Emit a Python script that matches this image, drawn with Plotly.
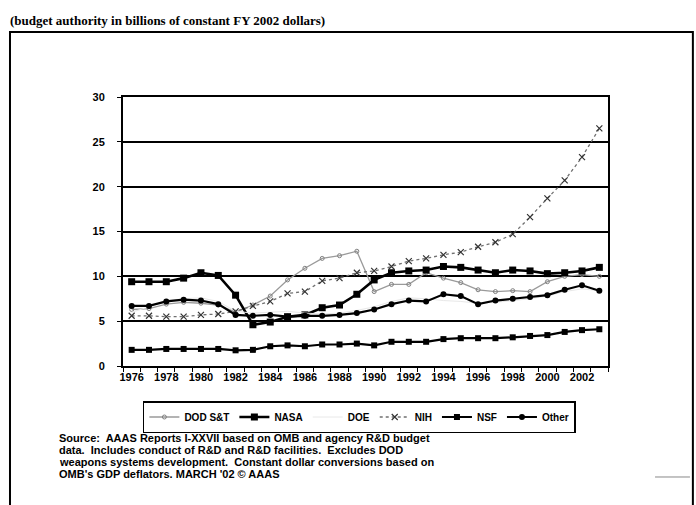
import plotly.graph_objects as go

years = [1976, 1977, 1978, 1979, 1980, 1981, 1982, 1983, 1984, 1985, 1986, 1987, 1988, 1989,
         1990, 1991, 1992, 1993, 1994, 1995, 1996, 1997, 1998, 1999, 2000, 2001, 2002, 2003]
label_years = [1976, 1978, 1980, 1982, 1984, 1986, 1988, 1990, 1992, 1994, 1996, 1998, 2000, 2002]

dod_st = [6.3, 6.4, 6.9, 7.1, 7.0, 6.8, 6.0, 6.8, 7.8, 9.6, 10.9, 12.0, 12.3, 12.8,
          8.3, 9.1, 9.1, 10.4, 9.8, 9.3, 8.5, 8.3, 8.4, 8.3, 9.4, 10.0, 10.2, 10.0]
nasa = [9.4, 9.4, 9.4, 9.8, 10.4, 10.1, 7.9, 4.6, 4.9, 5.5, 5.7, 6.5, 6.8, 8.0,
        9.6, 10.4, 10.6, 10.7, 11.1, 11.0, 10.7, 10.4, 10.7, 10.6, 10.3, 10.4, 10.6, 11.0]
doe = [6.0, 6.6, 7.3, 7.5, 7.6, 7.2, 6.1, 5.9, 6.0, 6.1, 5.9, 5.8, 5.9, 6.2,
       6.6, 7.2, 7.6, 7.5, 7.3, 7.2, 7.0, 7.1, 7.3, 7.5, 7.8, 8.3, 8.6, 8.4]
nih = [5.6, 5.6, 5.5, 5.5, 5.7, 5.8, 6.1, 6.7, 7.2, 8.1, 8.3, 9.5, 9.8, 10.4,
       10.6, 11.1, 11.7, 12.0, 12.4, 12.7, 13.3, 13.8, 14.7, 16.6, 18.7, 20.7, 23.3, 26.5]
nsf = [1.8, 1.8, 1.9, 1.9, 1.9, 1.9, 1.75, 1.8, 2.2, 2.3, 2.2, 2.4, 2.4, 2.5,
       2.3, 2.7, 2.7, 2.7, 3.0, 3.1, 3.1, 3.1, 3.2, 3.35, 3.45, 3.8, 4.0, 4.1]
other = [6.7, 6.7, 7.2, 7.4, 7.3, 6.9, 5.7, 5.6, 5.7, 5.5, 5.6, 5.6, 5.7, 5.9,
         6.3, 6.9, 7.3, 7.2, 8.0, 7.8, 6.9, 7.3, 7.5, 7.7, 7.9, 8.5, 9.0, 8.4]

title_text = "(budget authority in billions of constant FY 2002 dollars)"
source_lines = ["Source:  AAAS Reports I-XXVII based on OMB and agency R&D budget",
                "data.  Includes conduct of R&D and R&D facilities.  Excludes DOD",
                "weapons systems development.  Constant dollar conversions based on",
                "OMB's GDP deflators. MARCH '02 © AAAS"]

fig = go.Figure()
fig.add_trace(go.Scatter(x=years, y=dod_st, name="DOD S&T", mode="lines+markers",
                         line=dict(color="#9a9a9a", width=1.3),
                         marker=dict(symbol="circle-open", size=4, color="#808080")))
fig.add_trace(go.Scatter(x=years, y=nasa, name="NASA", mode="lines+markers",
                         line=dict(color="black", width=2.6),
                         marker=dict(symbol="square", size=7, color="black")))
fig.add_trace(go.Scatter(x=years, y=doe, name="DOE", mode="lines",
                         line=dict(color="#e8e8e8", width=1)))
fig.add_trace(go.Scatter(x=years, y=nih, name="NIH", mode="lines+markers",
                         line=dict(color="#707070", width=1.3, dash="dot"),
                         marker=dict(symbol="x-thin-open", size=6, color="#333333",
                                     line=dict(width=1.2, color="#333333"))))
fig.add_trace(go.Scatter(x=years, y=nsf, name="NSF", mode="lines+markers",
                         line=dict(color="black", width=2.2),
                         marker=dict(symbol="square", size=6, color="black")))
fig.add_trace(go.Scatter(x=years, y=other, name="Other", mode="lines+markers",
                         line=dict(color="black", width=2.2),
                         marker=dict(symbol="circle", size=6, color="black")))

axis_font = dict(family="Liberation Sans, Arial", size=11, color="black", weight="bold")
src_font = dict(family="Liberation Sans, Arial", size=11, color="black", weight="bold")

annotations = [
    dict(text=title_text, xref="paper", yref="paper", x=-0.237, y=1.286,
         xanchor="left", yanchor="middle", showarrow=False,
         font=dict(family="Liberation Serif, Times New Roman", size=13, color="black",
                   weight="bold")),
]
for i, line in enumerate(source_lines):
    annotations.append(dict(text=line, xref="paper", yref="paper", x=-0.136,
                            y=(366 - (438 + 12 * i)) / 269, xanchor="left", yanchor="middle",
                            showarrow=False, align="left", font=src_font))

fig.update_layout(
    width=696, height=505,
    margin=dict(l=123, r=88, t=97, b=139),
    paper_bgcolor="white", plot_bgcolor="white",
    showlegend=True,
    legend=dict(orientation="h", x=0.041, y=(366 - 401) / 269, xanchor="left", yanchor="top",
                bordercolor="black", borderwidth=1.5, bgcolor="white",
                font=dict(family="Liberation Sans, Arial", size=10, color="black", weight="bold"),
                itemwidth=30, traceorder="normal"),
    xaxis=dict(range=[1975.5, 2003.5], tickmode="array", tickvals=label_years,
               ticktext=[str(y) for y in label_years], ticks="", showgrid=False,
               showline=True, linecolor="black", linewidth=2, mirror=True,
               tickfont=axis_font, zeroline=False,
               minor=dict(tickmode="array", tickvals=[y - 0.5 for y in years] + [years[-1] + 0.5],
                          ticks="outside", ticklen=4, tickcolor="black", tickwidth=1,
                          showgrid=False)),
    yaxis=dict(range=[0, 30], dtick=5, tick0=0, showgrid=True, gridcolor="black", gridwidth=1.5,
               showline=True, linecolor="black", linewidth=2, mirror=True,
               ticks="outside", ticklen=4, tickcolor="black", tickfont=axis_font,
               ticklabelstandoff=10, zeroline=False),
    annotations=annotations,
    shapes=[
        dict(type="rect", xref="paper", yref="paper", x0=-0.233, x1=1.175, y0=-0.58, y1=1.2416,
             line=dict(color="black", width=2), layer="below"),
        dict(type="line", xref="paper", yref="paper", x0=1.097, x1=1.169, y0=-0.4126, y1=-0.4126,
             line=dict(color="#888888", width=1)),
    ],
)

fig.write_html("out.html")
